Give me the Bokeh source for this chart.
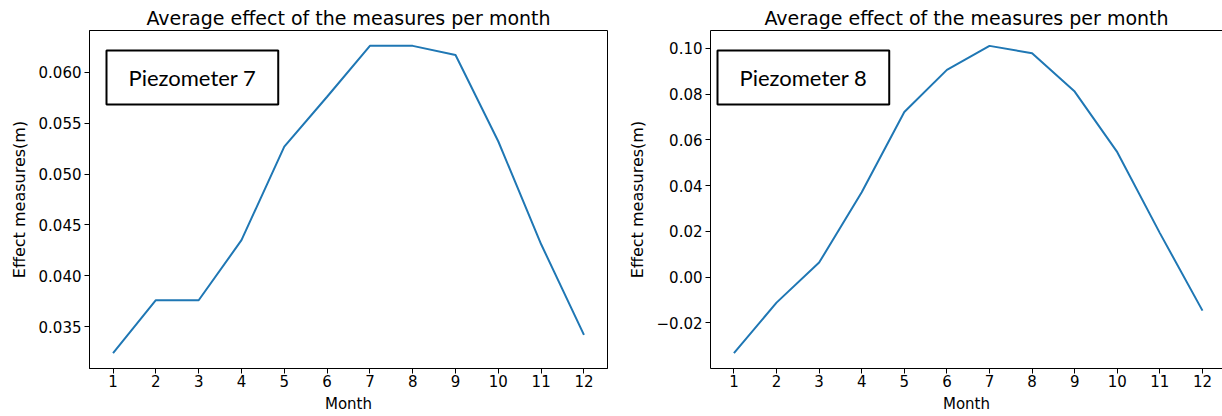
from bokeh.plotting import figure
from bokeh.models import Range1d, FixedTicker, Label, LinearAxis, CustomJSTickFormatter
from bokeh.layouts import row
from bokeh.embed import file_html
from bokeh.resources import INLINE

# ---- data ----
months = [1, 2, 3, 4, 5, 6, 7, 8, 9, 10, 11, 12]
effect_p7 = [0.0324, 0.0376, 0.0376, 0.0435, 0.0527, 0.0576, 0.0626, 0.0626, 0.0617, 0.0532, 0.0431, 0.0342]
effect_p8 = [-0.0333, -0.0112, 0.0063, 0.0371, 0.0722, 0.0906, 0.1011, 0.0979, 0.0811, 0.0546, 0.0192, -0.0147]
yticks_p7 = [0.035, 0.040, 0.045, 0.050, 0.055, 0.060]
yticklabels_p7 = ["0.035", "0.040", "0.045", "0.050", "0.055", "0.060"]
yticks_p8 = [-0.02, 0.0, 0.02, 0.04, 0.06, 0.08, 0.10]
yticklabels_p8 = ["\u22120.02", "0.00", "0.02", "0.04", "0.06", "0.08", "0.10"]
title_text = "Average effect of the measures per month"
x_label = "Month"
y_label = "Effect measures(m)"
box_labels = ["Piezometer 7", "Piezometer 8"]

LINE = "#1f77b4"
FONT = "DejaVu Sans"
H = 416


def padded(vals, frac=0.05):
    lo, hi = min(vals), max(vals)
    d = (hi - lo) * frac
    return lo - d, hi + d


def make_fig(ys, yticks, ylabels, box_text, width, mb_left, mb_right, box_dx, outline, x_cut=0.0):
    xlo, xhi = padded(months)
    ylo, yhi = padded(ys)
    p = figure(width=width, height=H, output_backend="svg", toolbar_location=None,
               x_range=Range1d(xlo, xhi - x_cut), y_range=Range1d(ylo, yhi),
               min_border_left=mb_left, min_border_right=mb_right,
               min_border_top=30, min_border_bottom=48,
               title=title_text)
    p.title.text_font = FONT
    p.title.text_font_size = "19px"
    p.title.text_font_style = "normal"
    p.title.text_color = "black"
    p.title.align = "center"
    p.title.standoff = 4
    p.xgrid.visible = False
    p.ygrid.visible = False
    p.background_fill_color = "white"
    p.border_fill_color = "white"
    if outline:
        p.outline_line_color = "black"
        p.outline_line_width = 1
    else:
        p.outline_line_color = None

    p.line(months, ys, line_color=LINE, line_width=2)

    p.xaxis.ticker = FixedTicker(ticks=months)
    p.yaxis.ticker = FixedTicker(ticks=yticks)
    p.yaxis.formatter = CustomJSTickFormatter(args=dict(tvals=yticks, tlabels=ylabels), code="""
        for (let i = 0; i < tvals.length; i++) {
            if (Math.abs(tvals[i] - tick) < 1e-9) { return tlabels[i]; }
        }
        return '';
    """)
    p.xaxis.axis_label = x_label
    p.yaxis.axis_label = y_label
    for ax in (p.xaxis[0], p.yaxis[0]):
        ax.axis_line_color = "black"
        ax.axis_line_width = 1
        ax.major_tick_line_color = "black"
        ax.major_tick_out = 5
        ax.major_tick_in = 0
        ax.minor_tick_line_color = None
        ax.major_label_text_font = FONT
        ax.major_label_text_font_size = "15px"
        ax.major_label_text_color = "black"
        ax.axis_label_text_font = FONT
        ax.axis_label_text_font_size = "15px"
        ax.axis_label_text_font_style = "normal"
        ax.axis_label_text_color = "black"
    p.yaxis.axis_label_text_font_size = "16px"
    p.xaxis.major_label_standoff = 1
    p.xaxis.axis_label_standoff = 5
    p.yaxis.major_label_standoff = 3
    p.yaxis.axis_label_standoff = 7
    p.yaxis.major_label_orientation = "horizontal"

    if not outline:
        top = LinearAxis(ticker=FixedTicker(ticks=[]), axis_line_color="black",
                         major_tick_line_color=None, minor_tick_line_color=None,
                         major_label_text_font_size="0px")
        p.add_layout(top, "above")

    lab = Label(x=box_dx, y=318, x_units="screen", y_units="screen", text=box_text,
                anchor="top_left", text_font="Lato", text_font_size="22px", text_color="black",
                border_line_color="black", border_line_width=2, background_fill_color="white",
                padding=dict(left=22, right=22, top=13, bottom=14))
    p.add_layout(lab)
    return p


p1 = make_fig(effect_p7, yticks_p7, yticklabels_p7, box_labels[0], 612, 89, 5, 17, True)
p2 = make_fig(effect_p8, yticks_p8, yticklabels_p8, box_labels[1], 610, 98, 0, 7, False, x_cut=0.08)

layout = row(p1, p2, spacing=0)
open("out.html", "w").write(file_html(layout, INLINE))
